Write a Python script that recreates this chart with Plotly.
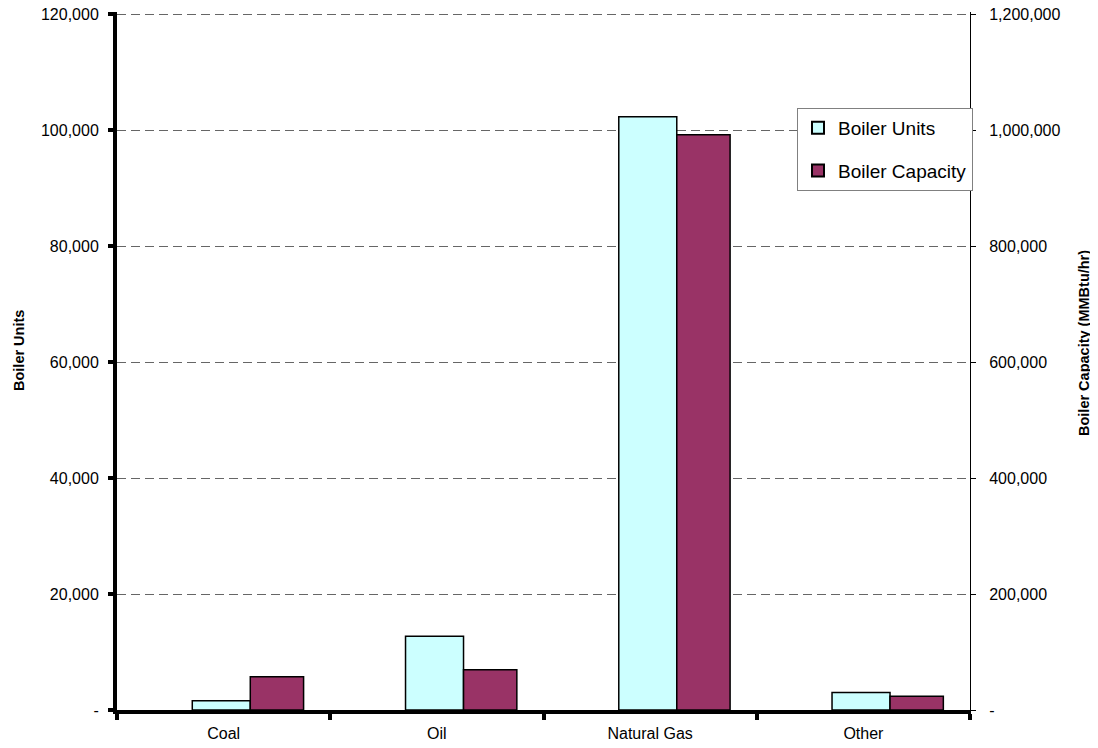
import plotly.graph_objects as go

categories = ["Coal", "Oil", "Natural Gas", "Other"]
boiler_units = [1600, 12700, 102300, 3000]
boiler_capacity = [57500, 69500, 992000, 23500]

left_ticks = [0, 20000, 40000, 60000, 80000, 100000, 120000]
left_ticktext = ["-", "20,000", "40,000", "60,000", "80,000", "100,000", "120,000"]
right_ticks = [0, 200000, 400000, 600000, 800000, 1000000, 1200000]
right_ticktext = ["-", "200,000", "400,000", "600,000", "800,000", "1,000,000", "1,200,000"]

FONT = "Liberation Sans, Arial, sans-serif"
# page has an 8px body margin; figure sized so it fits the 1098x748 window
OFF = 8
W, H = 1098 - OFF, 748 - OFF
L, R, T, B = 117 - OFF, 128, 12 - OFF, 38
PW, PH = W - L - R, H - T - B
# 2px headroom above the top tick so its gridline is still drawn
HEAD = PH / (PH - 2)


def px_x(page_x):
    return (page_x - OFF - L) / PW


def px_y(page_y):
    return (H - B - (page_y - OFF)) / PH


fig = go.Figure()
fig.add_trace(go.Bar(
    x=categories, y=boiler_units, name="Boiler Units",
    marker=dict(color="#CCFFFF", line=dict(color="black", width=1.5)),
    offset=-0.147, width=0.272, yaxis="y", legendgroup="a",
))
fig.add_trace(go.Bar(
    x=categories, y=boiler_capacity, name="Boiler Capacity",
    marker=dict(color="#993366", line=dict(color="black", width=1.5)),
    offset=0.125, width=0.25, yaxis="y2", legendgroup="b",
))

fig.update_layout(
    width=W, height=H,
    margin=dict(l=L, r=R, t=T, b=B),
    plot_bgcolor="white", paper_bgcolor="white",
    barmode="overlay",
    font=dict(family=FONT, color="black", size=16),
    showlegend=True,
    legend=dict(
        x=px_x(797), y=px_y(108), xanchor="left", yanchor="top",
        bgcolor="white", bordercolor="#808080", borderwidth=1,
        font=dict(size=19, family=FONT), tracegroupgap=15,
        itemsizing="constant",
    ),
    xaxis=dict(
        type="category", range=[-0.5, 3.5], automargin=False,
        showline=True, linecolor="black", linewidth=4,
        ticks="outside", tickson="boundaries", ticklen=6, tickwidth=4, tickcolor="black",
        showgrid=False, ticklabelstandoff=6,
        tickfont=dict(size=16),
    ),
    yaxis=dict(
        range=[0, 120000 * HEAD], tickvals=left_ticks, ticktext=left_ticktext, automargin=False,
        showline=True, linecolor="black", linewidth=4,
        ticks="outside", ticklen=5, tickwidth=4, tickcolor="black",
        showgrid=True, gridcolor="#666666", griddash="9px,5px", gridwidth=1,
        zeroline=False, ticklabelstandoff=6, ticklabeloverflow="allow",
        tickfont=dict(size=16),
    ),
    yaxis2=dict(
        range=[0, 1200000 * HEAD], tickvals=right_ticks, ticktext=right_ticktext,
        overlaying="y", side="right", anchor="x", automargin=False,
        showline=True, linecolor="black", linewidth=1,
        ticks="outside", ticklen=5, tickwidth=1, tickcolor="black",
        showgrid=False, zeroline=False, ticklabelstandoff=10, ticklabeloverflow="allow",
        tickfont=dict(size=16),
    ),
    yaxis3=dict(
        range=[0, 1200000 * HEAD], tickvals=right_ticks, automargin=False,
        overlaying="y", side="right", anchor="x",
        showline=False, ticks="inside", ticklen=5, tickwidth=1, tickcolor="black",
        showticklabels=False, showgrid=False, zeroline=False,
    ),
    annotations=[
        dict(text="<b>Boiler Units</b>", xref="paper", yref="paper",
             x=px_x(19), y=px_y(351),
             xanchor="center", yanchor="middle", textangle=-90, showarrow=False,
             font=dict(size=14.5, family=FONT, color="black")),
        dict(text="<b>Boiler Capacity (MMBtu/hr)</b>", xref="paper", yref="paper",
             x=px_x(1084), y=px_y(343),
             xanchor="center", yanchor="middle", textangle=-90, showarrow=False,
             font=dict(size=14.5, family=FONT, color="black")),
    ],
)

fig.write_html("out.html")
